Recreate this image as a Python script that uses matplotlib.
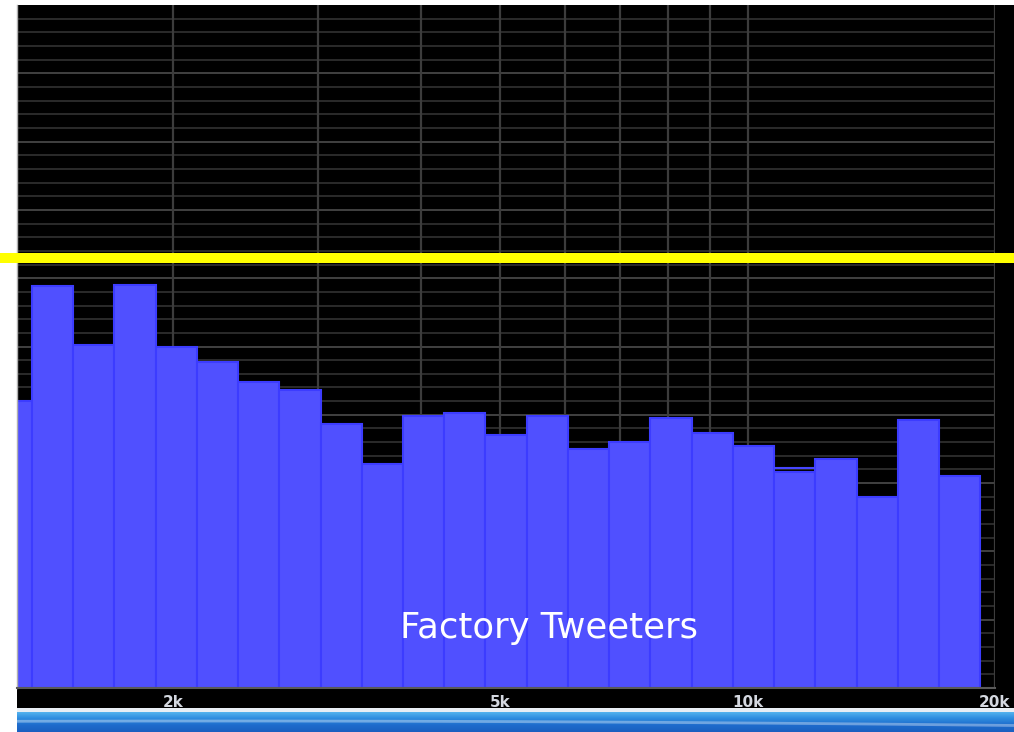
import numpy as np
import matplotlib
matplotlib.use("Agg")
import matplotlib.pyplot as plt
from matplotlib.patches import Rectangle
from matplotlib.transforms import blended_transform_factory
from matplotlib.colors import LinearSegmentedColormap

# ---- data ----
center_freqs = [1271, 1426, 1601, 1797, 2017, 2264, 2541, 2853, 3202, 3594,
                4034, 4528, 5082, 5705, 6403, 7187, 8068, 9056, 10165, 11410,
                12807, 14375, 16136, 18112]
levels = [21.0, 29.4, 25.1, 29.5, 25.0, 23.9, 22.4, 21.8, 19.3, 16.4,
          19.9, 20.1, 18.5, 19.9, 17.5, 18.0, 19.8, 18.7, 17.7, 15.8,
          16.8, 14.0, 19.6, 15.5]
peak_band = 11410
peak_level = 16.1
reference_level = 31.5
tick_freqs = [2000, 3000, 4000, 5000, 6000, 7000, 8000, 9000, 10000, 20000]
tick_labels = ["2k", "", "", "5k", "", "", "", "", "10k", "20k"]
title = "Factory Tweeters"

# ---- figure ----
W, H = 1014, 732
fig = plt.figure(figsize=(W / 100, H / 100), dpi=100, facecolor="white")

def fx(px):
    return px / W

def fy(py):
    return 1 - py / H

# black panel behind the plot area
fig.patches.append(Rectangle((fx(17), fy(708)), 1 - fx(17), fy(5) - fy(708),
                             transform=fig.transFigure, facecolor="black",
                             edgecolor="none", zorder=-10))
# thin light lines under the panel
fig.patches.append(Rectangle((fx(17), fy(712)), 1 - fx(17), fy(708) - fy(712),
                             transform=fig.transFigure, facecolor="#e8eef4",
                             edgecolor="none", zorder=-10))
# blue gradient strip at the bottom
gax = fig.add_axes([fx(17), 0, 1 - fx(17), fy(712)])
grad = np.linspace(0, 1, 50)[:, None]
cmap = LinearSegmentedColormap.from_list("strip", ["#5ab8f0", "#2f8ee0", "#1e6ccc", "#1a5fc0"])
gax.imshow(np.repeat(grad, 10, axis=1), aspect="auto", cmap=cmap,
           extent=[0, 1, 0, 1])
xs = np.linspace(0, 1, 200)
gax.plot(xs, 0.55 - 0.35 * (xs - 0.2) ** 2, color="white", alpha=0.35, lw=2)
gax.set_xlim(0, 1)
gax.set_ylim(0, 1)
gax.axis("off")

ax = fig.add_axes([fx(17), fy(688), fx(995) - fx(17), fy(5) - fy(688)])
ax.set_facecolor("black")
ax.set_xscale("log")
ax.set_xlim(1291, 20000)
ax.set_ylim(0, 50)

# horizontal grid
for v in range(1, 50):
    major = v % 5 == 0
    ax.axhline(v, color="#464646" if major else "#2e2e2e", lw=1.3, zorder=1)
# vertical grid
for f in tick_freqs:
    ax.axvline(f, color="#3c3c3c", lw=1.6, zorder=1)

# bars (1/6 octave bands)
cf = np.array(center_freqs, dtype=float)
lo = cf * 2 ** (-1 / 12)
hi = cf * 2 ** (1 / 12)
ax.bar(lo, levels, width=hi - lo, align="edge", color="#5050ff",
       edgecolor="#3c3cff", linewidth=1.5, zorder=2)
ax.hlines(peak_level, peak_band * 2 ** (-1 / 12), peak_band * 2 ** (1 / 12),
          color="#4646ff", lw=1.5, zorder=2)

# yellow reference line spanning the whole width
tr = blended_transform_factory(fig.transFigure, ax.transData)
ax.plot([0, 1], [reference_level, reference_level], color="#ffff00", lw=7.2,
        transform=tr, clip_on=False, zorder=5, solid_capstyle="butt")

ax.text(0.544, 0.0732, title, transform=ax.transAxes, ha="center", va="baseline",
        color="white", fontsize=25.5, family="DejaVu Sans", zorder=6)

ax.set_xticks(tick_freqs)
ax.set_xticklabels(tick_labels)
ax.xaxis.set_minor_locator(matplotlib.ticker.NullLocator())
ax.tick_params(axis="x", length=0, pad=5, labelsize=11, labelcolor="#d4d8e0")
for lbl in ax.get_xticklabels():
    lbl.set_fontweight("bold")
ax.set_yticks([])
for s in ["top", "right"]:
    ax.spines[s].set_visible(False)
ax.spines["bottom"].set_color("#5a5a5a")
ax.spines["bottom"].set_linewidth(1.5)
ax.spines["left"].set_color("#b0b0b0")
ax.spines["left"].set_linewidth(1.0)

fig.savefig("out.png", dpi=100, facecolor="white")
